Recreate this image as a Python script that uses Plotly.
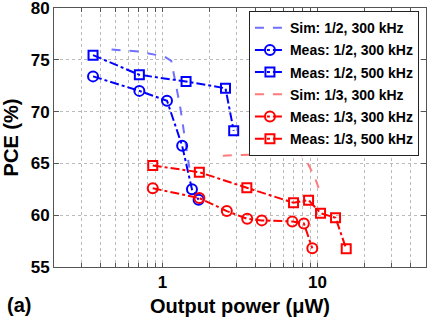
"""PCE vs output power, recreated with Plotly."""

import plotly.graph_objects as go

# Sim: 1/2, 300 kHz
sim_half_x = [0.47, 0.70, 0.89, 1.03, 1.14, 1.30, 1.49]
sim_half_y = [76.0, 75.8, 75.5, 75.3, 74.9, 70.5, 64.6]

# Meas: 1/2, 300 kHz
meas_half_300_x = [0.357, 0.71, 1.07, 1.34, 1.55, 1.71]
meas_half_300_y = [73.4, 72.0, 71.05, 66.7, 62.5, 61.5]

# Meas: 1/2, 500 kHz
meas_half_500_x = [0.357, 0.71, 1.42, 2.55, 2.88]
meas_half_500_y = [75.45, 73.55, 72.9, 72.25, 68.15]

# Sim: 1/3, 300 kHz
sim_third_x = [2.45, 4.0, 6.0, 7.65, 8.45, 9.56, 10.3]
sim_third_y = [65.75, 65.85, 65.95, 66.0, 65.3, 63.7, 62.4]

# Meas: 1/3, 300 kHz
meas_third_300_x = [0.866, 1.73, 2.60, 3.52, 4.37, 6.87, 8.16, 9.25]
meas_third_300_y = [62.6, 61.65, 60.4, 59.65, 59.5, 59.4, 59.2, 56.8]

# Meas: 1/3, 500 kHz
meas_third_500_x = [0.866, 1.73, 3.50, 7.0, 8.75, 10.45, 13.06, 15.3]
meas_third_500_y = [64.8, 64.15, 62.65, 61.2, 61.45, 60.2, 59.75, 56.75]

x_ticks = [0.2, 0.3, 0.4, 0.5, 0.6, 0.7, 0.8, 0.9, 1, 2, 3, 4, 5, 6, 7, 8, 9,
           10, 20, 30, 40, 50]
x_tick_text = ["1" if v == 1 else "10" if v == 10 else "" for v in x_ticks]
y_ticks = [55, 60, 65, 70, 75, 80]

BLUE = "#0000ff"
RED = "#ff0000"
FAMILY = "Liberation Sans, Arial, sans-serif"


def bold(size):
    return dict(family=FAMILY, size=size, color="black", weight="bold")


fig = go.Figure()

fig.add_trace(go.Scatter(
    x=sim_half_x, y=sim_half_y, mode="lines", name="Sim: 1/2, 300 kHz",
    line=dict(color="#7070ff", width=2, dash="dash"), legendgroup="a",
))
fig.add_trace(go.Scatter(
    x=meas_half_300_x, y=meas_half_300_y, mode="lines+markers",
    name="Meas: 1/2, 300 kHz", legendgroup="b",
    line=dict(color=BLUE, width=2, dash="dashdot"),
    marker=dict(symbol="circle-open", size=10, color=BLUE, line=dict(width=2)),
))
fig.add_trace(go.Scatter(
    x=meas_half_500_x, y=meas_half_500_y, mode="lines+markers",
    name="Meas: 1/2, 500 kHz", legendgroup="c",
    line=dict(color=BLUE, width=2, dash="dashdot"),
    marker=dict(symbol="square-open", size=9, color=BLUE, line=dict(width=2)),
))
fig.add_trace(go.Scatter(
    x=sim_third_x, y=sim_third_y, mode="lines", name="Sim: 1/3, 300 kHz",
    line=dict(color="#ff7a7a", width=2, dash="dash"), legendgroup="d",
))
fig.add_trace(go.Scatter(
    x=meas_third_300_x, y=meas_third_300_y, mode="lines+markers",
    name="Meas: 1/3, 300 kHz", legendgroup="e",
    line=dict(color=RED, width=2, dash="dashdot"),
    marker=dict(symbol="circle-open", size=10, color=RED, line=dict(width=2)),
))
fig.add_trace(go.Scatter(
    x=meas_third_500_x, y=meas_third_500_y, mode="lines+markers",
    name="Meas: 1/3, 500 kHz", legendgroup="f",
    line=dict(color=RED, width=2, dash="dashdot"),
    marker=dict(symbol="square-open", size=9, color=RED, line=dict(width=2)),
))

fig.add_annotation(
    text="(a)", xref="paper", yref="paper", x=-0.132, y=-0.147,
    xanchor="left", yanchor="middle", showarrow=False, font=bold(20),
)

fig.update_layout(
    width=432,
    height=326,
    margin=dict(l=54, r=6, t=8, b=59),
    paper_bgcolor="white",
    plot_bgcolor="white",
    font=dict(family=FAMILY, color="black"),
    legend=dict(
        x=0.981, y=0.988, xanchor="right", yanchor="top",
        bgcolor="white", bordercolor="#222222", borderwidth=1,
        font=bold(14), tracegroupgap=1, itemwidth=30,
    ),
    xaxis=dict(
        type="log", range=[-0.69897, 1.69897], automargin=False,
        tickvals=x_ticks, ticktext=x_tick_text,
        ticks="inside", ticklen=4, tickcolor="#555555",
        showgrid=True, gridcolor="#bbbbbb", griddash="dot", gridwidth=1,
        showline=True, linecolor="#555555", mirror="ticks", linewidth=1,
        tickfont=bold(17),
        title=dict(text="Output power (μW)", standoff=7, font=bold(20)),
        zeroline=False,
    ),
    yaxis=dict(
        range=[55, 80], tickvals=y_ticks, automargin=False,
        ticks="inside", ticklen=5, tickcolor="#555555",
        ticklabeloverflow="allow",
        showgrid=True, gridcolor="#bbbbbb", griddash="dot", gridwidth=1,
        showline=True, linecolor="#555555", mirror="ticks", linewidth=1,
        tickfont=bold(17),
        title=dict(text="PCE (%)", standoff=8, font=bold(20)),
        zeroline=False,
    ),
)

# drop the browser's default 8px body margin so the figure fills the window
fig.write_html(
    "out.html",
    config={"displayModeBar": False},
    post_script="document.body.style.margin = '0';",
)
